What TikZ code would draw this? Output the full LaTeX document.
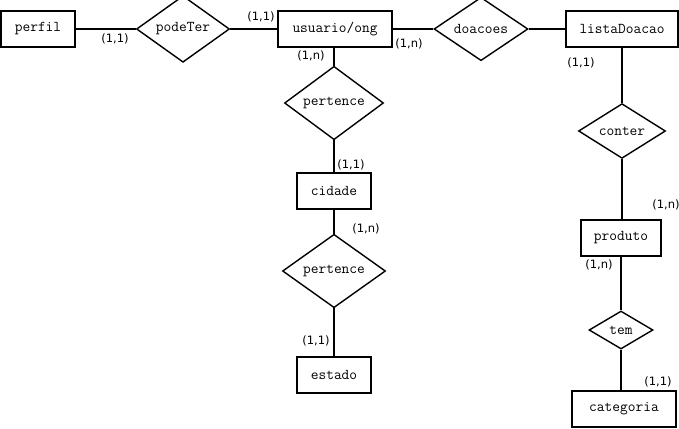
\documentclass[tikz,border=0pt]{standalone}
\usepackage{fontspec}
\newfontfamily\cardfont{DejaVu Sans}
\usetikzlibrary{shapes.geometric}

\begin{document}
\begin{tikzpicture}[x=1pt,y=-1pt,
    entity/.style={rectangle,draw=black,line width=1.4pt,inner sep=0pt,
        font=\ttfamily\fontsize{15}{16}\selectfont},
    relation/.style={diamond,draw=black,line width=1.4pt,inner sep=0pt,
        font=\ttfamily\fontsize{15}{16}\selectfont},
    card/.style={inner sep=0pt,font=\cardfont\fontsize{11.5}{13}\selectfont}]
      \useasboundingbox (0,0) rectangle (679,428);
      % entidades
      \node[entity,minimum width=74pt,minimum height=36pt] (perfil) at (38,29) {perfil};
      \node[entity,minimum width=114pt,minimum height=36pt] (usuario) at (335,29) {usuario/ong};
      \node[entity,minimum width=112pt,minimum height=36pt] (listaDoacao) at (622,29) {listaDoacao};
      \node[entity,minimum width=74pt,minimum height=36pt] (cidade) at (334,191) {cidade};
      \node[entity,minimum width=74pt,minimum height=36pt] (estado) at (334,375) {estado};
      \node[entity,minimum width=80pt,minimum height=36pt] (produto) at (621,238) {produto};
      \node[entity,minimum width=104pt,minimum height=36pt] (categoria) at (624,409) {categoria};
      % relacionamentos
      \node[relation,minimum width=93pt,minimum height=58pt] (podeTer) at (183,29) {podeTer};
      \node[relation,minimum width=94pt,minimum height=57pt] (doacoes) at (481,29) {doacoes};
      \node[relation,minimum width=99pt,minimum height=60pt] (pertence1) at (334,103) {pertence};
      \node[relation,minimum width=103pt,minimum height=61pt] (pertence2) at (334,271) {pertence};
      \node[relation,minimum width=87pt,minimum height=51pt] (conter) at (622,131) {conter};
      \node[relation,minimum width=64pt,minimum height=38pt] (tem) at (621,330) {tem};
      \path
      (perfil.east) edge [line width=1.4pt] node {} (podeTer.west)
      (podeTer.east) edge [line width=1.4pt] node {} (usuario.west)
      (usuario.east) edge [line width=1.4pt] node {} (doacoes.west)
      (doacoes.east) edge [line width=1.4pt] node {} (listaDoacao.west);
      \path
      (usuario.south -| pertence1.north) edge [line width=1.4pt] node {} (pertence1.north)
      (pertence1.south) edge [line width=1.4pt] node {} (cidade.north -| pertence1.south)
      (cidade.south) edge [line width=1.4pt] node {} (pertence2.north)
      (pertence2.south) edge [line width=1.4pt] node {} (estado.north);
      \path
      (listaDoacao.south) edge [line width=1.4pt] node {} (conter.north)
      (conter.south) edge [line width=1.4pt] node {} (produto.north -| conter.south)
      (produto.south) edge [line width=1.4pt] node {} (tem.north)
      (tem.south) edge [line width=1.4pt] node {} (tem.south |- categoria.north);
      % cardinalidades
      \node[card] (c1) at (115,39) {(1,1)};
      \node[card] (c2) at (261,17) {(1,1)};
      \node[card] (c3) at (311,56) {(1,n)};
      \node[card] (c4) at (409,44) {(1,n)};
      \node[card] (c5) at (581,63) {(1,1)};
      \node[card] (c6) at (351,165) {(1,1)};
      \node[card] (c7) at (366,229) {(1,n)};
      \node[card] (c8) at (316,341) {(1,1)};
      \node[card] (c9) at (666,205) {(1,n)};
      \node[card] (c10) at (599,265) {(1,n)};
      \node[card] (c11) at (658,382) {(1,1)};
    \end{tikzpicture}
\end{document}
